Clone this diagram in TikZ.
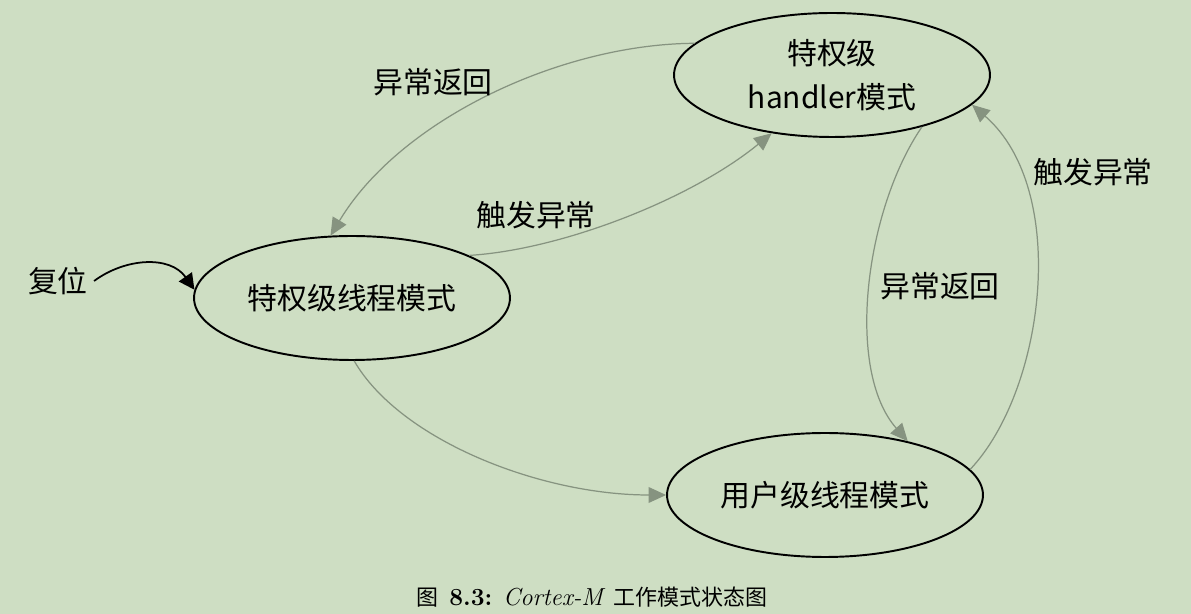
\documentclass[tikz,border=0pt]{standalone}
\usepackage{fontspec}
\newfontfamily\cjk{Noto Sans CJK SC}
\usetikzlibrary{shapes.geometric,arrows.meta}
\definecolor{bggreen}{RGB}{206,222,195}
\definecolor{arrowgray}{RGB}{134,147,128}

\begin{document}
\begin{tikzpicture}[x=0.02cm, y=-0.02cm,
  mode/.style={ellipse, draw=black, line width=1.1pt, minimum width=6.32cm,
    minimum height=2.48cm, inner sep=0pt, align=center,
    font=\cjk\fontsize{17}{25}\selectfont},
  lbl/.style={font=\cjk\fontsize{17}{20}\selectfont},
  trans/.style={draw=arrowgray, line width=0.7pt,
    -{Triangle[length=10pt,width=9pt]}}]

\fill[bggreen] (0,0) rectangle (1191,614);
\useasboundingbox (0,0) rectangle (1191,614);

\node[mode] (priv)    at (352,298) {特权级线程模式};
\node[mode] (handler) at (832,75)  {特权级\\handler模式};
\node[mode] (user)    at (825,495) {用户级线程模式};
\node[lbl]  (reset)   at (58,281)  {复位};

\draw[trans] (handler.167) .. controls (560,44) and (400,120) .. (priv.109);
\draw[trans] (priv.20) .. controls (560,250) and (690,200) .. (handler.224);
\draw[trans] (priv.272) .. controls (400,440) and (540,495) .. (user.180);
\draw[trans] (handler.330) .. controls (865,210) and (845,370) .. (user.33);
\draw[trans] (user.10) .. controls (1045,390) and (1070,190) .. (handler.348);
\draw[line width=1pt, -{Triangle[length=9pt,width=9pt]}]
  (reset.east) .. controls (125,258) and (170,255) .. (priv.177);

\node[lbl] (ret1) at (433,82)   {异常返回};
\node[lbl] (exc1) at (536,215)  {触发异常};
\node[lbl] (ret2) at (940,286)  {异常返回};
\node[lbl] (exc2) at (1093,172) {触发异常};

\node[font=\fontsize{14}{16}\selectfont] (caption) at (592,597)
  {{\cjk\fontsize{12.5}{15}\selectfont 图}\hspace{6pt}\textbf{8.3:}
   \textit{Cortex-M} {\cjk\fontsize{12.5}{15}\selectfont 工作模式状态图}};
\end{tikzpicture}
\end{document}
